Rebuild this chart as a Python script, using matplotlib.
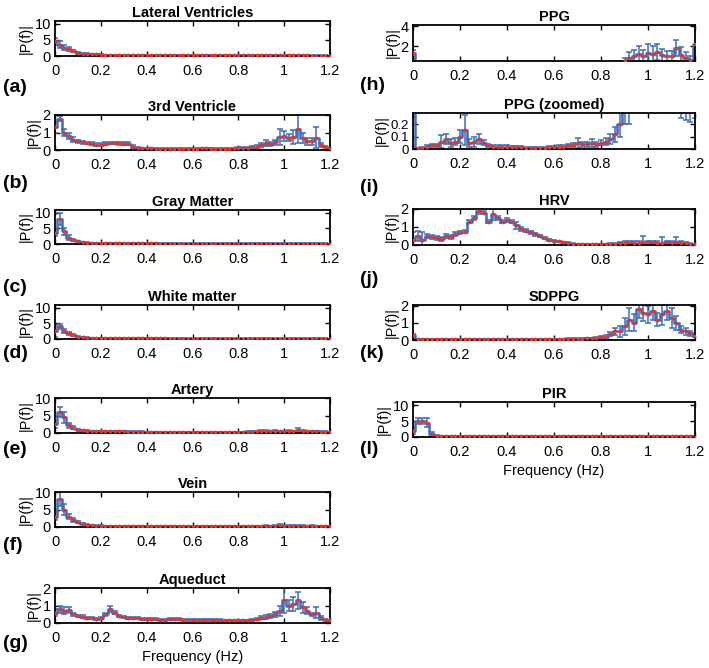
import numpy as np
import matplotlib.pyplot as plt

plt.rcParams['font.family'] = ['Liberation Sans', 'DejaVu Sans']

# frequency grid (Hz)
freq = np.round(np.arange(0, 1.2001, 0.02), 2)

# mean spectra and error bars (one value per 0.02 Hz)
lat_vent = [4.5, 3.5, 2.5, 2.2, 1.5, 0.9, 0.7, 0.6, 0.5, 0.5,
            0.4, 0.35, 0.3, 0.3, 0.25, 0.25, 0.2, 0.2, 0.2, 0.2,
            0.2, 0.18, 0.2, 0.18, 0.2, 0.18, 0.2, 0.18, 0.2, 0.18,
            0.18, 0.2, 0.18, 0.2, 0.18, 0.18, 0.2, 0.18, 0.18, 0.18,
            0.18, 0.18, 0.2, 0.18, 0.18, 0.18, 0.18, 0.2, 0.18, 0.18,
            0.18, 0.18, 0.16, 0.18, 0.16, 0.16, 0.15, 0.15, 0.14, 0.12,
            0.1]
lat_vent_err = [1.2, 1.0, 0.8, 0.6, 0.4, 0.3, 0.2, 0.2, 0.15, 0.15,
                0.1, 0.1, 0.1, 0.1, 0.1, 0.1, 0.1, 0.1, 0.1, 0.1,
                0.1, 0.1, 0.1, 0.1, 0.1, 0.1, 0.1, 0.1, 0.1, 0.1,
                0.1, 0.1, 0.1, 0.1, 0.1, 0.1, 0.1, 0.1, 0.1, 0.1,
                0.1, 0.1, 0.1, 0.1, 0.1, 0.1, 0.1, 0.1, 0.1, 0.1,
                0.1, 0.1, 0.1, 0.1, 0.1, 0.1, 0.1, 0.1, 0.1, 0.1,
                0.05]

third_vent = [1.3, 1.8, 1.0, 0.8, 0.6, 0.5, 0.45, 0.4, 0.35, 0.3,
              0.3, 0.35, 0.4, 0.4, 0.38, 0.35, 0.35, 0.2, 0.12, 0.1,
              0.1, 0.1, 0.08, 0.08, 0.08, 0.07, 0.07, 0.07, 0.07, 0.07,
              0.08, 0.08, 0.1, 0.1, 0.08, 0.08, 0.08, 0.08, 0.08, 0.1,
              0.1, 0.1, 0.12, 0.15, 0.2, 0.3, 0.4, 0.35, 0.45, 0.75,
              0.8, 0.7, 0.75, 1.2, 0.7, 0.5, 0.5, 0.7, 0.3, 0.2,
              0.1]
third_vent_err = [0.3, 0.15, 0.2, 0.15, 0.12, 0.1, 0.08, 0.08, 0.08, 0.08,
                  0.08, 0.08, 0.08, 0.08, 0.08, 0.08, 0.08, 0.06, 0.04, 0.04,
                  0.04, 0.04, 0.04, 0.04, 0.04, 0.04, 0.04, 0.04, 0.04, 0.04,
                  0.04, 0.04, 0.04, 0.04, 0.04, 0.04, 0.04, 0.04, 0.04, 0.04,
                  0.05, 0.05, 0.05, 0.06, 0.08, 0.1, 0.15, 0.1, 0.15, 0.45,
                  0.3, 0.2, 0.4, 0.8, 0.3, 0.2, 0.2, 0.6, 0.1, 0.05,
                  0.03]

gray_matter = [3.5, 8.0, 4.0, 2.0, 1.3, 0.8, 0.6, 0.45, 0.35, 0.3,
               0.25, 0.25, 0.22, 0.2, 0.2, 0.2, 0.18, 0.18, 0.18, 0.18,
               0.16, 0.16, 0.16, 0.15, 0.15, 0.15, 0.15, 0.15, 0.15, 0.15,
               0.15, 0.15, 0.15, 0.15, 0.15, 0.15, 0.15, 0.15, 0.15, 0.15,
               0.15, 0.15, 0.15, 0.15, 0.15, 0.15, 0.15, 0.15, 0.15, 0.15,
               0.15, 0.15, 0.15, 0.15, 0.14, 0.14, 0.13, 0.13, 0.12, 0.12,
               0.1]
gray_matter_err = [1.0, 2.0, 1.2, 0.8, 0.4, 0.2, 0.15, 0.1, 0.1, 0.1,
                   0.1, 0.1, 0.1, 0.1, 0.1, 0.1, 0.1, 0.1, 0.1, 0.1,
                   0.1, 0.1, 0.1, 0.1, 0.1, 0.1, 0.1, 0.1, 0.1, 0.1,
                   0.1, 0.1, 0.1, 0.1, 0.1, 0.1, 0.1, 0.1, 0.1, 0.1,
                   0.1, 0.1, 0.1, 0.1, 0.1, 0.1, 0.1, 0.1, 0.1, 0.1,
                   0.1, 0.1, 0.1, 0.1, 0.1, 0.1, 0.1, 0.1, 0.1, 0.1,
                   0.05]

white_matter = [2.5, 4.0, 2.5, 1.8, 1.2, 0.7, 0.5, 0.4, 0.3, 0.3,
                0.25, 0.22, 0.2, 0.2, 0.18, 0.18, 0.18, 0.17, 0.17, 0.17,
                0.16, 0.16, 0.16, 0.16, 0.16, 0.15, 0.15, 0.15, 0.15, 0.15,
                0.15, 0.15, 0.15, 0.15, 0.15, 0.15, 0.15, 0.15, 0.15, 0.15,
                0.15, 0.15, 0.15, 0.15, 0.15, 0.15, 0.15, 0.15, 0.15, 0.15,
                0.15, 0.15, 0.15, 0.15, 0.15, 0.14, 0.14, 0.13, 0.13, 0.12,
                0.1]
white_matter_err = [2.0, 0.8, 0.6, 0.4, 0.3, 0.2, 0.15, 0.1, 0.1, 0.1,
                    0.1, 0.1, 0.1, 0.1, 0.1, 0.1, 0.1, 0.1, 0.1, 0.1,
                    0.1, 0.1, 0.1, 0.1, 0.1, 0.1, 0.1, 0.1, 0.1, 0.1,
                    0.1, 0.1, 0.1, 0.1, 0.1, 0.1, 0.1, 0.1, 0.1, 0.1,
                    0.1, 0.1, 0.1, 0.1, 0.1, 0.1, 0.1, 0.1, 0.1, 0.1,
                    0.1, 0.1, 0.1, 0.1, 0.1, 0.1, 0.1, 0.1, 0.1, 0.1,
                    0.05]

artery = [2.5, 6.0, 4.5, 2.2, 1.5, 1.0, 0.8, 0.7, 0.6, 0.55,
          0.5, 0.5, 0.45, 0.5, 0.5, 0.45, 0.4, 0.4, 0.35, 0.35,
          0.3, 0.3, 0.3, 0.3, 0.3, 0.3, 0.3, 0.3, 0.3, 0.3,
          0.3, 0.3, 0.3, 0.3, 0.3, 0.3, 0.3, 0.3, 0.3, 0.3,
          0.3, 0.3, 0.35, 0.4, 0.45, 0.6, 0.5, 0.5, 0.6, 0.5,
          0.5, 0.6, 0.5, 0.9, 0.6, 0.5, 0.5, 0.45, 0.4, 0.35,
          0.3]
artery_err = [1.0, 1.5, 1.5, 0.8, 0.4, 0.2, 0.15, 0.15, 0.1, 0.1,
              0.1, 0.1, 0.1, 0.1, 0.1, 0.1, 0.1, 0.1, 0.1, 0.1,
              0.1, 0.1, 0.1, 0.1, 0.1, 0.1, 0.1, 0.1, 0.1, 0.1,
              0.1, 0.1, 0.1, 0.1, 0.1, 0.1, 0.1, 0.1, 0.1, 0.1,
              0.1, 0.1, 0.1, 0.15, 0.2, 0.4, 0.3, 0.2, 0.3, 0.2,
              0.2, 0.3, 0.2, 0.6, 0.2, 0.15, 0.15, 0.1, 0.1, 0.1,
              0.1]

vein = [3.0, 8.0, 5.0, 3.0, 2.0, 1.4, 1.0, 0.7, 0.5, 0.4,
        0.35, 0.3, 0.3, 0.3, 0.25, 0.25, 0.25, 0.25, 0.25, 0.25,
        0.25, 0.25, 0.25, 0.25, 0.25, 0.25, 0.25, 0.25, 0.25, 0.25,
        0.25, 0.25, 0.25, 0.25, 0.25, 0.25, 0.25, 0.25, 0.25, 0.25,
        0.25, 0.25, 0.25, 0.3, 0.3, 0.3, 0.35, 0.3, 0.4, 0.5,
        0.4, 0.35, 0.35, 0.4, 0.35, 0.3, 0.35, 0.3, 0.25, 0.25,
        0.2]
vein_err = [1.0, 2.0, 1.5, 0.8, 0.5, 0.3, 0.2, 0.15, 0.1, 0.1,
            0.1, 0.1, 0.1, 0.1, 0.1, 0.1, 0.1, 0.1, 0.1, 0.1,
            0.1, 0.1, 0.1, 0.1, 0.1, 0.1, 0.1, 0.1, 0.1, 0.1,
            0.1, 0.1, 0.1, 0.1, 0.1, 0.1, 0.1, 0.1, 0.1, 0.1,
            0.1, 0.1, 0.1, 0.1, 0.1, 0.1, 0.15, 0.1, 0.2, 0.3,
            0.2, 0.15, 0.15, 0.2, 0.15, 0.1, 0.15, 0.1, 0.1, 0.1,
            0.1]

aqueduct = [0.6, 0.8, 0.7, 0.75, 0.5, 0.4, 0.35, 0.3, 0.3, 0.25,
            0.3, 0.5, 0.8, 0.6, 0.4, 0.35, 0.3, 0.3, 0.3, 0.25,
            0.25, 0.22, 0.22, 0.2, 0.2, 0.22, 0.25, 0.22, 0.2, 0.2,
            0.2, 0.2, 0.18, 0.2, 0.2, 0.18, 0.18, 0.15, 0.15, 0.15,
            0.15, 0.15, 0.15, 0.2, 0.25, 0.3, 0.35, 0.4, 0.5, 0.7,
            1.3, 1.0, 1.1, 1.3, 0.9, 0.7, 0.5, 0.6, 0.3, 0.2,
            0.15]
aqueduct_err = [0.2, 0.2, 0.2, 0.15, 0.1, 0.08, 0.08, 0.06, 0.06, 0.05,
                0.06, 0.1, 0.15, 0.1, 0.06, 0.05, 0.05, 0.05, 0.05, 0.05,
                0.05, 0.05, 0.05, 0.05, 0.05, 0.05, 0.05, 0.05, 0.05, 0.05,
                0.05, 0.05, 0.05, 0.05, 0.05, 0.05, 0.05, 0.05, 0.05, 0.05,
                0.05, 0.05, 0.05, 0.05, 0.06, 0.08, 0.1, 0.1, 0.15, 0.3,
                0.7, 0.3, 0.4, 0.5, 0.3, 0.2, 0.1, 0.3, 0.1, 0.05,
                0.05]

ppg = [1.3, 0.005, 0.01, 0.02, 0.03, 0.03, 0.06, 0.08, 0.05, 0.06,
       0.1, 0.15, 0.05, 0.06, 0.08, 0.05, 0.03, 0.02, 0.02, 0.02,
       0.02, 0.015, 0.015, 0.015, 0.01, 0.01, 0.01, 0.01, 0.01, 0.015,
       0.015, 0.02, 0.02, 0.03, 0.03, 0.05, 0.04, 0.04, 0.05, 0.04,
       0.05, 0.06, 0.08, 0.12, 0.2, 0.5, 0.8, 1.0, 1.2, 1.0,
       1.3, 1.2, 1.4, 1.1, 1.0, 1.0, 1.8, 1.1, 0.8, 0.6,
       2.2]
ppg_err = [0.35, 0.005, 0.01, 0.01, 0.01, 0.01, 0.05, 0.04, 0.03, 0.03,
           0.05, 0.12, 0.03, 0.04, 0.04, 0.02, 0.01, 0.01, 0.01, 0.01,
           0.01, 0.01, 0.01, 0.01, 0.01, 0.01, 0.01, 0.01, 0.01, 0.01,
           0.01, 0.01, 0.01, 0.01, 0.015, 0.04, 0.02, 0.02, 0.03, 0.02,
           0.02, 0.03, 0.04, 0.06, 0.1, 0.3, 0.6, 0.6, 0.8, 0.6,
           0.9, 0.8, 0.8, 0.6, 0.5, 0.5, 0.8, 0.85, 0.57, 0.38,
           1.95]

hrv = [0.3, 0.5, 0.3, 0.5, 0.45, 0.4, 0.35, 0.5, 0.45, 0.6,
       0.7, 0.75, 1.3, 1.5, 1.9, 1.8, 1.3, 1.7, 1.5, 1.3,
       1.4, 1.3, 1.1, 0.9, 0.8, 0.7, 0.6, 0.5, 0.4, 0.3,
       0.25, 0.2, 0.15, 0.1, 0.07, 0.05, 0.05, 0.05, 0.05, 0.05,
       0.05, 0.05, 0.06, 0.08, 0.1, 0.12, 0.15, 0.12, 0.12, 0.15,
       0.15, 0.15, 0.12, 0.12, 0.15, 0.12, 0.15, 0.12, 0.1, 0.08,
       0.05]
hrv_err = [0.4, 0.3, 0.4, 0.1, 0.1, 0.1, 0.1, 0.1, 0.1, 0.1,
           0.1, 0.1, 0.1, 0.1, 0.15, 0.1, 0.1, 0.3, 0.1, 0.1,
           0.1, 0.1, 0.2, 0.1, 0.1, 0.08, 0.08, 0.08, 0.06, 0.06,
           0.05, 0.05, 0.04, 0.04, 0.03, 0.03, 0.03, 0.03, 0.03, 0.03,
           0.03, 0.03, 0.04, 0.05, 0.06, 0.08, 0.1, 0.08, 0.08, 0.35,
           0.1, 0.1, 0.1, 0.3, 0.1, 0.1, 0.3, 0.1, 0.06, 0.05,
           0.03]

sdppg = [0.3, 0.05, 0.05, 0.05, 0.05, 0.05, 0.05, 0.05, 0.05, 0.05,
         0.05, 0.05, 0.05, 0.05, 0.05, 0.05, 0.05, 0.05, 0.05, 0.05,
         0.05, 0.05, 0.05, 0.05, 0.05, 0.05, 0.05, 0.05, 0.05, 0.05,
         0.06, 0.06, 0.06, 0.07, 0.07, 0.08, 0.08, 0.1, 0.1, 0.12,
         0.15, 0.2, 0.35, 0.5, 0.5, 0.8, 1.2, 1.0, 1.8, 1.6,
         1.5, 1.7, 1.2, 1.5, 1.7, 1.3, 1.0, 0.6, 0.5, 0.4,
         0.25]
sdppg_err = [0.05, 0.02, 0.02, 0.02, 0.02, 0.02, 0.02, 0.02, 0.02, 0.02,
             0.02, 0.02, 0.02, 0.02, 0.02, 0.02, 0.02, 0.02, 0.02, 0.02,
             0.02, 0.02, 0.02, 0.02, 0.02, 0.02, 0.02, 0.02, 0.02, 0.02,
             0.02, 0.02, 0.02, 0.02, 0.02, 0.03, 0.03, 0.03, 0.04, 0.05,
             0.06, 0.08, 0.1, 0.2, 0.3, 0.5, 0.7, 0.5, 0.5, 0.5,
             0.5, 0.5, 0.4, 0.6, 0.5, 0.6, 0.4, 0.2, 0.2, 0.15,
             0.05]

pir = [2.0, 5.0, 5.0, 4.5, 1.0, 0.4, 0.3, 0.3, 0.3, 0.3,
       0.3, 0.3, 0.3, 0.3, 0.3, 0.3, 0.25, 0.25, 0.2, 0.2,
       0.2, 0.2, 0.2, 0.2, 0.2, 0.2, 0.2, 0.2, 0.2, 0.2,
       0.2, 0.2, 0.2, 0.2, 0.2, 0.2, 0.2, 0.2, 0.2, 0.2,
       0.2, 0.2, 0.2, 0.2, 0.2, 0.2, 0.2, 0.2, 0.2, 0.2,
       0.2, 0.2, 0.2, 0.2, 0.2, 0.2, 0.2, 0.2, 0.2, 0.2,
       0.15]
pir_err = [1.0, 1.0, 1.0, 1.5, 0.5, 0.2, 0.1, 0.1, 0.1, 0.1,
           0.1, 0.1, 0.1, 0.1, 0.1, 0.1, 0.1, 0.1, 0.1, 0.1,
           0.1, 0.1, 0.1, 0.1, 0.1, 0.1, 0.1, 0.1, 0.1, 0.1,
           0.1, 0.1, 0.1, 0.1, 0.1, 0.1, 0.1, 0.1, 0.1, 0.1,
           0.1, 0.1, 0.1, 0.1, 0.1, 0.1, 0.1, 0.1, 0.1, 0.1,
           0.1, 0.1, 0.1, 0.1, 0.1, 0.1, 0.1, 0.1, 0.1, 0.1,
           0.05]

xticks = [0, 0.2, 0.4, 0.6, 0.8, 1, 1.2]
xtick_labels = ['0', '0.2', '0.4', '0.6', '0.8', '1', '1.2']

W, H = 709, 668
fig = plt.figure(figsize=(W / 100, H / 100), dpi=100)

blue = '#3d6cb9'
red = '#e3372b'


def px_rect(x0, y0, x1, y1):
    return [x0 / W, 1 - y1 / H, (x1 - x0) / W, (y1 - y0) / H]


def draw_panel(rect, title, mean, err, ylim, yticks, ylabels, letter, letter_pos,
               xlabel=False, ysize=10.5):
    ax = fig.add_axes(px_rect(*rect))
    ax.step(freq, mean, where='mid', color=blue, lw=1.8, zorder=2)
    ax.errorbar(freq, mean, yerr=err, fmt='none', ecolor=blue, elinewidth=1.1,
                capsize=2.2, capthick=1.1, zorder=2)
    ax.plot(freq, mean, '.', color=red, ms=3.5, zorder=3)
    ax.set_xlim(0, 1.2)
    ax.set_ylim(*ylim)
    ax.set_xticks(xticks)
    ax.set_xticklabels(xtick_labels)
    ax.set_yticks(yticks)
    ax.set_yticklabels(ylabels)
    ax.tick_params(direction='in', top=True, right=True, length=3.5, width=1.0,
                   labelsize=10.5)
    ax.tick_params(axis='x', pad=6)
    ax.tick_params(axis='y', pad=3, labelsize=ysize)
    for s in ax.spines.values():
        s.set_linewidth(1.3)
    ax.set_title(title, fontsize=10.5, fontweight='bold', pad=3)
    ax.set_ylabel('|P(f)|', fontsize=10.5, labelpad=1)
    if xlabel:
        ax.set_xlabel('Frequency (Hz)', fontsize=10.5, labelpad=3)
    fig.text(letter_pos[0] / W, 1 - letter_pos[1] / H, letter, fontsize=14,
             fontweight='bold', ha='left', va='center')
    return ax


lx0, lx1 = 55, 330
rx0, rx1 = 413, 695

draw_panel((lx0, 21, lx1, 56), 'Lateral Ventricles', lat_vent, lat_vent_err,
           (0, 10.8), [0, 5, 10], ['0', '5', '10'], '(a)', (3, 88))
draw_panel((lx0, 115, lx1, 150), '3rd Ventricle', third_vent, third_vent_err,
           (0, 2), [0, 1, 2], ['0', '1', '2'], '(b)', (3, 183))
draw_panel((lx0, 210, lx1, 244), 'Gray Matter', gray_matter, gray_matter_err,
           (0, 10.8), [0, 5, 10], ['0', '5', '10'], '(c)', (3, 287))
draw_panel((lx0, 305, lx1, 339), 'White matter', white_matter, white_matter_err,
           (0, 10.8), [0, 5, 10], ['0', '5', '10'], '(d)', (3, 353))
draw_panel((lx0, 398, lx1, 433), 'Artery', artery, artery_err,
           (0, 10), [0, 5, 10], ['0', '5', '10'], '(e)', (3, 450))
draw_panel((lx0, 492, lx1, 527), 'Vein', vein, vein_err,
           (0, 10), [0, 5, 10], ['0', '5', '10'], '(f)', (3, 546))
draw_panel((lx0, 588, lx1, 623), 'Aqueduct', aqueduct, aqueduct_err,
           (0, 2), [0, 1, 2], ['0', '1', '2'], '(g)', (3, 643), xlabel=True)

draw_panel((rx0, 25, rx1, 61), 'PPG', ppg, ppg_err,
           (0.5, 4.1), [2, 4], ['2', '4'], '(h)', (360, 85))
draw_panel((rx0, 113, rx1, 149), 'PPG (zoomed)', ppg, ppg_err,
           (0, 0.29), [0, 0.1, 0.2], ['0', '0.1', '0.2'], '(i)', (360, 187),
           ysize=9.5)
draw_panel((rx0, 209, rx1, 245), 'HRV', hrv, hrv_err,
           (0, 2), [0, 1, 2], ['0', '1', '2'], '(j)', (360, 279))
draw_panel((rx0, 305, rx1, 340), 'SDPPG', sdppg, sdppg_err,
           (0, 2.05), [0, 1, 2], ['0', '1', '2'], '(k)', (360, 354))
draw_panel((rx0, 402, rx1, 437), 'PIR', pir, pir_err,
           (0, 11), [0, 5, 10], ['0', '5', '10'], '(l)', (360, 450), xlabel=True)

fig.savefig('out.png', dpi=100)
